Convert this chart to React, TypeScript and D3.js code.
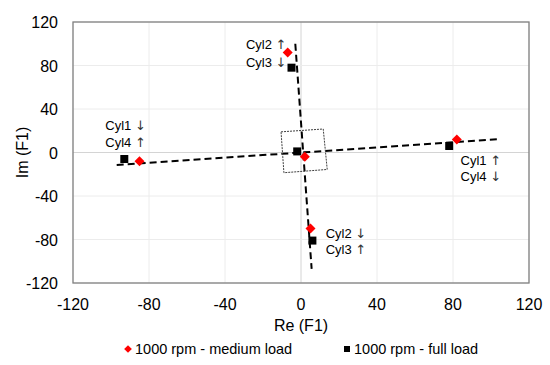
import React from "react";
import * as d3 from "d3";

const xTicks = [-120, -80, -40, 0, 40, 80, 120];
const yTicks = [-120, -80, -40, 0, 40, 80, 120];

const mediumLoadRe = [-85, 82, -7, 5, 2];
const mediumLoadIm = [-8, 12, 92, -70, -4];
const fullLoadRe = [-93, 78, -5, 6, -2];
const fullLoadIm = [-6, 6, 78, -81, 1];

const trendA = [[-97, -11.5], [105, 12.4]];
const trendB = [[-3, 100], [5.6, -107]];

const boxCorners = [[-10.5, 19], [11.7, 21.6], [13.8, -15.6], [-9, -18.6]];

const labelNames = ["Cyl1", "Cyl4", "Cyl2", "Cyl3", "Cyl1", "Cyl4", "Cyl2", "Cyl3"];
const labelArrows = ["↓", "↑", "↑", "↓", "↑", "↓", "↓", "↑"];
const labelRe = [-103, -103, -29, -29, 84, 84, 13, 13];
const labelIm = [20.5, 5.5, 95, 78.5, -11.5, -26.5, -78.5, -93];

const seriesNames = ["1000 rpm - medium load", "1000 rpm - full load"];

export default function App() {
  const W = 550, H = 365;
  const left = 73, right = 529, top = 22, bottom = 283;
  const x = d3.scaleLinear().domain([-120, 120]).range([left, right]);
  const y = d3.scaleLinear().domain([-120, 120]).range([bottom, top]);
  const font = "Liberation Sans, Arial, sans-serif";
  const line = d3.line<number[]>().x(d => x(d[0])).y(d => y(d[1]));
  const boxPath = line(boxCorners) + "Z";
  const diamond = d3.symbol(d3.symbolSquare, 50)();
  const square = d3.symbol(d3.symbolSquare, 64)();

  return (
    <svg width={W} height={H} style={{ position: "absolute", left: 0, top: 0 }} fontFamily={font}>
      <rect width={W} height={H} fill="white" />
      {xTicks.map(t => (
        <line key={"gx" + t} x1={x(t)} x2={x(t)} y1={top} y2={bottom} stroke={t === 0 ? "#d4d4d4" : "#ececec"} strokeWidth={1} />
      ))}
      {yTicks.map(t => (
        <line key={"gy" + t} x1={left} x2={right} y1={y(t)} y2={y(t)} stroke={t === 0 ? "#d4d4d4" : "#ececec"} strokeWidth={1} />
      ))}
      <rect x={left} y={top} width={right - left} height={bottom - top} fill="none" stroke="#808080" strokeWidth={1.3} />
      {xTicks.map(t => (
        <text key={"tx" + t} x={x(t)} y={310} fontSize={16} textAnchor="middle" fill="#000">{t}</text>
      ))}
      {yTicks.map(t => (
        <text key={"ty" + t} x={58} y={y(t) + 6} fontSize={16} textAnchor="end" fill="#000">{t}</text>
      ))}
      <text x={x(0)} y={331} fontSize={16} textAnchor="middle">Re (F1)</text>
      <text transform={`translate(28,${y(0)}) rotate(-90)`} fontSize={16} textAnchor="middle">Im (F1)</text>

      <path d={line(trendA) || ""} fill="none" stroke="#000" strokeWidth={2} strokeDasharray="7,4" />
      <path d={line(trendB) || ""} fill="none" stroke="#000" strokeWidth={2} strokeDasharray="7,4" />
      <path d={boxPath} fill="none" stroke="#404040" strokeWidth={1} strokeDasharray="2,1" />

      {fullLoadRe.map((v, i) => (
        <path key={"f" + i} d={square || ""} transform={`translate(${x(v)},${y(fullLoadIm[i])})`} fill="#000" />
      ))}
      {mediumLoadRe.map((v, i) => (
        <path key={"m" + i} d={diamond || ""} transform={`translate(${x(v)},${y(mediumLoadIm[i])}) rotate(45)`} fill="#ff0000" />
      ))}

      {labelNames.map((t, i) => (
        <text key={"l" + i} x={x(labelRe[i])} y={y(labelIm[i])} fontSize={13} fill="#000">
          {t + " "}
          <tspan fontFamily="DejaVu Sans" fontSize={13} fill="#333">{labelArrows[i]}</tspan>
        </text>
      ))}

      <path d={d3.symbol(d3.symbolSquare, 30)() || ""} transform="translate(128,349) rotate(45)" fill="#ff0000" />
      <text x={135} y={354} fontSize={14.5}>{seriesNames[0]}</text>
      <path d={d3.symbol(d3.symbolSquare, 36)() || ""} transform="translate(347,349)" fill="#000" />
      <text x={354} y={354} fontSize={14.5}>{seriesNames[1]}</text>
    </svg>
  );
}
